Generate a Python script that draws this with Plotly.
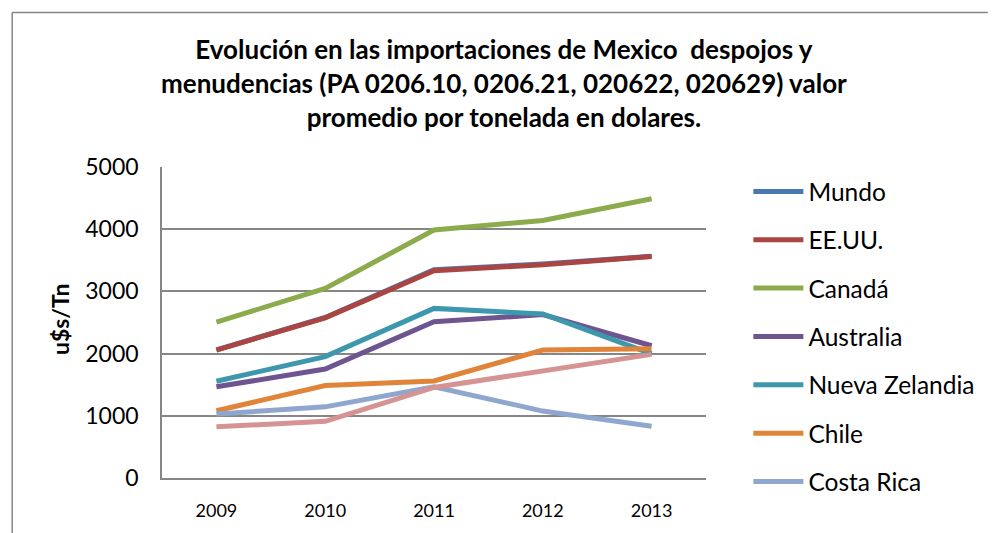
import plotly.graph_objects as go

years = ["2009", "2010", "2011", "2012", "2013"]
mundo = [2060, 2580, 3350, 3440, 3565]
eeuu = [2057, 2574, 3333, 3428, 3560]
canada = [2505, 3049, 3987, 4140, 4489]
australia = [1466, 1751, 2511, 2627, 2126]
nueva_zelandia = [1556, 1951, 2727, 2637, 1994]
chile = [1081, 1487, 1561, 2057, 2078]
costa_rica = [1028, 1144, 1466, 1076, 833]
otros = [823, 912, 1456, 1719, 1988]

series = [
    ("Mundo", mundo, "#4A77B0", True),
    ("EE.UU.", eeuu, "#AA4542", True),
    ("Canadá", canada, "#8BAB4C", True),
    ("Australia", australia, "#6E5590", True),
    ("Nueva Zelandia", nueva_zelandia, "#3D98AE", True),
    ("Chile", chile, "#E0843A", True),
    ("Costa Rica", costa_rica, "#8FA7CE", True),
    ("Otros", otros, "#D59392", False),
]

fig = go.Figure()
for i, (name, vals, color, show) in enumerate(series):
    fig.add_trace(go.Scatter(
        x=years, y=vals, name=name, mode="lines",
        line=dict(color=color, width=5),
        showlegend=show, legendgroup="g%d" % i,
    ))

L, R, T, B = 162, 278, 167, 50
W, H = 992, 533
pw, ph = W - L - R, H - T - B

def px(x):
    return (x - L) / pw

def py(y):
    return (H - B - y) / ph

fig.update_layout(
    width=W, height=H,
    margin=dict(l=L, r=R, t=T, b=B),
    paper_bgcolor="white", plot_bgcolor="white",
    font=dict(family="Lato", color="black"),
    showlegend=True,
    legend=dict(
        x=px(757), y=py(169), xanchor="left", yanchor="top",
        font=dict(family="Lato", size=24.5, color="black"),
        tracegroupgap=13.5, itemwidth=50, maxheight=520,
        bgcolor="rgba(0,0,0,0)",
    ),
    xaxis=dict(
        type="category", range=[-0.5, 4.5],
        showgrid=False, showline=True, linecolor="#868686", linewidth=1.5,
        ticks="", tickfont=dict(family="Lato", size=18),
        ticklabelstandoff=16, zeroline=False,
    ),
    yaxis=dict(
        range=[0, 5000], dtick=1000, tick0=0,
        showgrid=True, gridcolor="#868686", gridwidth=1.5,
        showline=True, linecolor="#868686", linewidth=1.5,
        ticks="", tickfont=dict(family="Lato", size=23),
        ticklabelstandoff=17, zeroline=False,
    ),
    annotations=[
        dict(
            text="Evolución en las importaciones de Mexico  despojos y<br>"
                 "menudencias (PA 0206.10, 0206.21, 020622, 020629) valor<br>"
                 "promedio por tonelada en dolares.",
            xref="paper", yref="paper", x=px(509), y=py(82),
            xanchor="center", yanchor="middle", showarrow=False,
            font=dict(family="Lato", size=26, color="black", weight="bold"),
        ),
        dict(
            text="<b>u$s/Tn</b>", textangle=-90,
            xref="paper", yref="paper", x=px(58), y=py(322),
            xanchor="center", yanchor="middle", showarrow=False,
            font=dict(family="Lato", size=23, color="black"),
        ),
    ],
    shapes=[
        dict(type="line", xref="paper", yref="paper",
             x0=px(10), x1=px(1000), y0=py(10), y1=py(10),
             line=dict(color="#868686", width=1.5)),
        dict(type="line", xref="paper", yref="paper",
             x0=px(10), x1=px(10), y0=py(10), y1=py(540),
             line=dict(color="#868686", width=1.5)),
    ],
)

fig.write_html(
    "out.html",
    config={"displayModeBar": False},
    post_script="document.body.style.margin='0';document.body.style.overflow='hidden';",
)
